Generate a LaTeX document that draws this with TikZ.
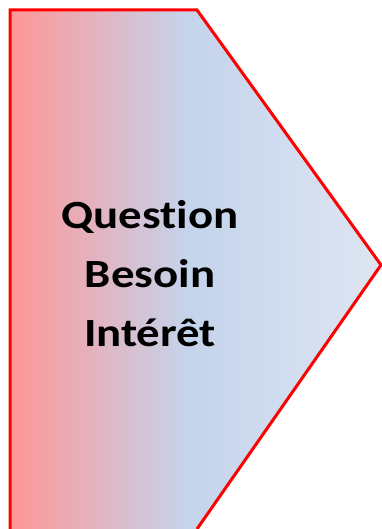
\documentclass[tikz,border=0pt]{standalone}
\usepackage{fontspec}
\setmainfont{Carlito}[Ligatures=NoCommon]
\definecolor{lc}{RGB}{255,150,150}
\definecolor{mc}{RGB}{196,212,236}
\definecolor{rc}{RGB}{222,229,242}
\definecolor{edge}{RGB}{255,0,0}
\pgfdeclarehorizontalshading{arrowshade}{100bp}{color(0bp)=(lc); color(25bp)=(lc); color(49bp)=(mc); color(75bp)=(rc); color(100bp)=(rc)}
\begin{document}
\begin{tikzpicture}[x=1pt,y=-1pt,
  lbl/.style={font=\fontsize{40}{59}\selectfont\bfseries,align=center,text=black}]
\useasboundingbox (0,0) rectangle (382,529);
\shade[shading=arrowshade]
  (10,529) -- (10,10) -- (197,10) -- (381,265) -- (197,529) -- cycle;
\draw[edge,line width=3pt,line join=miter]
  (10,529) -- (10,10) -- (197,10) -- (381,265) -- (197,529);
\node[lbl] (t) at (150,274) {\scalebox{1.17}[1]{Question}\\\scalebox{1.17}[1]{Besoin}\\\scalebox{1.17}[1]{Intérêt}};
\end{tikzpicture}
\end{document}
